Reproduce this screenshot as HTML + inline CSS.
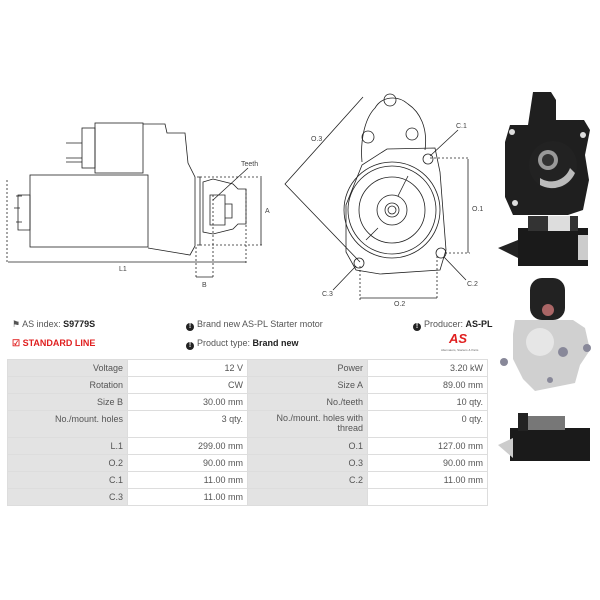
<!DOCTYPE html>
<html><head><style>
body{margin:0;width:600px;height:600px;background:#fff;font-family:"Liberation Sans",sans-serif;position:relative;overflow:hidden}
.t{position:absolute;font-size:9px;color:#555;white-space:nowrap}
.i{display:inline-block;width:8px;height:8px;border-radius:50%;background:#222;color:#fff;font-size:7px;line-height:8px;text-align:center;font-weight:bold;margin-right:3px;vertical-align:-1px}
table{position:absolute;left:7px;top:359px;border-collapse:collapse;font-size:9px;color:#555}
td{border:1px solid #ddd;text-align:right;padding:0 4px;height:16px;vertical-align:top;line-height:16px}
td.g{background:#e3e3e3;width:111px}
td.w{background:#fff;width:111px}
</style></head><body>
<svg width="600" height="600" style="position:absolute;left:0;top:0" font-family="Liberation Sans" font-size="7" fill="none" stroke="#222" stroke-width="0.8">
<rect x="30" y="175" width="118" height="72"/>
<rect x="95" y="123" width="48" height="50"/>
<rect x="82" y="128" width="13" height="40"/>
<path d="M66 143h16M66 158h16M66 162h16"/>
<path d="M143 124L165 124L167 133L185 133L188 163L195 177L195 246L190 255L148 248"/>
<path d="M18 195h12v35h-12z"/>
<path d="M16 196h6M16 222h6M14 208h6"/>
<path d="M197 177h3v68h-3M203 182l10 -3l20 5l5 5l8 0l0 35l-8 0l-5 5l-20 5l-10-2z"/>
<path d="M210 195h15v30h-15zM225 204h7v14h-7z"/>
<path d="M200 177h62M200 245h62M246 189v74M213 195v84M196 247v32M7 180v84" stroke-dasharray="2,2"/>
<path d="M261 178v67M8 262h238M196 277h17"/>
<path d="M213 200L248 168"/>
<path d="M362 162C360 140 365 118 375 108C382 96 398 95 408 104C420 112 428 128 425 150"/>
<path d="M387 149L435 148L440 172L446 250L440 270L380 274L356 270L346 252L346 205L362 165Z"/>
<circle cx="390" cy="100" r="6"/><circle cx="368" cy="137" r="6"/><circle cx="412" cy="134" r="6"/>
<circle cx="428" cy="159" r="5"/><circle cx="441" cy="253" r="5"/><circle cx="359" cy="263" r="5"/>
<circle cx="392" cy="210" r="48"/><circle cx="392" cy="210" r="44"/><circle cx="392" cy="210" r="33"/>
<circle cx="392" cy="210" r="15"/><circle cx="392" cy="210" r="7"/><circle cx="392" cy="210" r="4"/>
<path d="M408 176L398 196M378 228L366 240"/>
<path d="M363 97L285 184L360 262M468 159v94M360 298h77"/>
<path d="M430 158h40M445 253h25M360 266v34M437 256v44" stroke-dasharray="2,2"/>
<path d="M430 156L458 130M444 257L466 280M356 266L333 290"/>
<g fill="#444" stroke="none" font-size="7">
<text x="241" y="166">Teeth</text><text x="265" y="213">A</text><text x="119" y="271">L1</text><text x="202" y="287">B</text>
<text x="311" y="141">O.3</text><text x="456" y="128">C.1</text><text x="472" y="211">O.1</text><text x="467" y="286">C.2</text><text x="322" y="296">C.3</text><text x="394" y="306">O.2</text>
</g>
<g stroke="none">
<!-- photo 1 -->
<path d="M533 92h18l5 8v20h28l6 10l-5 25l4 25l-6 30l-15 5h-55l-8-18v-55l5-17h18z" fill="#1f1f1f"/>
<circle cx="512" cy="132" r="3" fill="#ddd"/><circle cx="583" cy="135" r="3" fill="#ddd"/><circle cx="515" cy="203" r="3" fill="#ddd"/>
<circle cx="553" cy="165" r="24" fill="#222"/>
<path d="M540 178a20 20 0 0 0 30-10l5 5a25 25 0 0 1-35 12z" fill="#bbb"/>
<circle cx="548" cy="160" r="10" fill="#999"/><circle cx="548" cy="160" r="6" fill="#333"/>
<!-- photo 2 -->
<rect x="518" y="228" width="70" height="38" fill="#1a1a1a"/><rect x="528" y="216" width="50" height="15" fill="#333"/><rect x="548" y="216" width="22" height="15" fill="#ddd"/>
<path d="M498 248l20-8v18z" fill="#222"/><rect x="578" y="235" width="10" height="25" fill="#ccc"/>
<!-- photo 3 -->
<rect x="530" y="278" width="35" height="42" rx="12" fill="#222"/>
<circle cx="548" cy="310" r="6" fill="#a66"/>
<path d="M515 320h58l12 8l5 22l-10 15l-5 18l-40 8l-12-12l-10-20v-25z" fill="#d0d0d0"/>
<circle cx="540" cy="342" r="14" fill="#e6e6e6"/>
<circle cx="563" cy="352" r="5" fill="#889"/><circle cx="587" cy="348" r="4" fill="#889"/><circle cx="504" cy="362" r="4" fill="#889"/><circle cx="550" cy="380" r="3" fill="#889"/>
<!-- photo 4 -->
<rect x="510" y="428" width="80" height="33" fill="#1a1a1a"/><rect x="525" y="416" width="40" height="14" fill="#777"/><rect x="518" y="413" width="10" height="18" fill="#222"/>
<path d="M498 445l15-7v20z" fill="#ccc"/>
</g>
</svg>
<div class="t" style="left:12px;top:319px">&#9873; AS index: <b style="color:#222">S9779S</b></div>
<div class="t" style="left:12px;top:338px;color:#e02020;font-weight:bold">&#9745; STANDARD LINE</div>
<div class="t" style="left:186px;top:319px"><span class="i">!</span>Brand new AS-PL Starter motor</div>
<div class="t" style="left:186px;top:338px"><span class="i">!</span>Product type: <b style="color:#222">Brand new</b></div>
<div class="t" style="left:413px;top:319px"><span class="i">!</span>Producer: <b style="color:#222">AS-PL</b></div>
<div class="t" style="left:449px;top:331px;color:#e02020;font-weight:bold;font-style:italic;font-size:13px">AS</div>
<div class="t" style="left:441px;top:348px;font-size:3px;color:#666">Alternators, Starters &amp; Parts</div>
<table>
<tr><td class="g">Voltage</td><td class="w">12 V</td><td class="g">Power</td><td class="w">3.20 kW</td></tr>
<tr><td class="g">Rotation</td><td class="w">CW</td><td class="g">Size A</td><td class="w">89.00 mm</td></tr>
<tr><td class="g">Size B</td><td class="w">30.00 mm</td><td class="g">No./teeth</td><td class="w">10 qty.</td></tr>
<tr><td class="g" style="height:26px">No./mount. holes</td><td class="w">3 qty.</td><td class="g" style="line-height:10px;padding-top:2px">No./mount. holes with<br>thread</td><td class="w">0 qty.</td></tr>
<tr><td class="g">L.1</td><td class="w">299.00 mm</td><td class="g">O.1</td><td class="w">127.00 mm</td></tr>
<tr><td class="g">O.2</td><td class="w">90.00 mm</td><td class="g">O.3</td><td class="w">90.00 mm</td></tr>
<tr><td class="g">C.1</td><td class="w">11.00 mm</td><td class="g">C.2</td><td class="w">11.00 mm</td></tr>
<tr><td class="g">C.3</td><td class="w">11.00 mm</td><td class="g"></td><td class="w"></td></tr>
</table>
</body></html>
